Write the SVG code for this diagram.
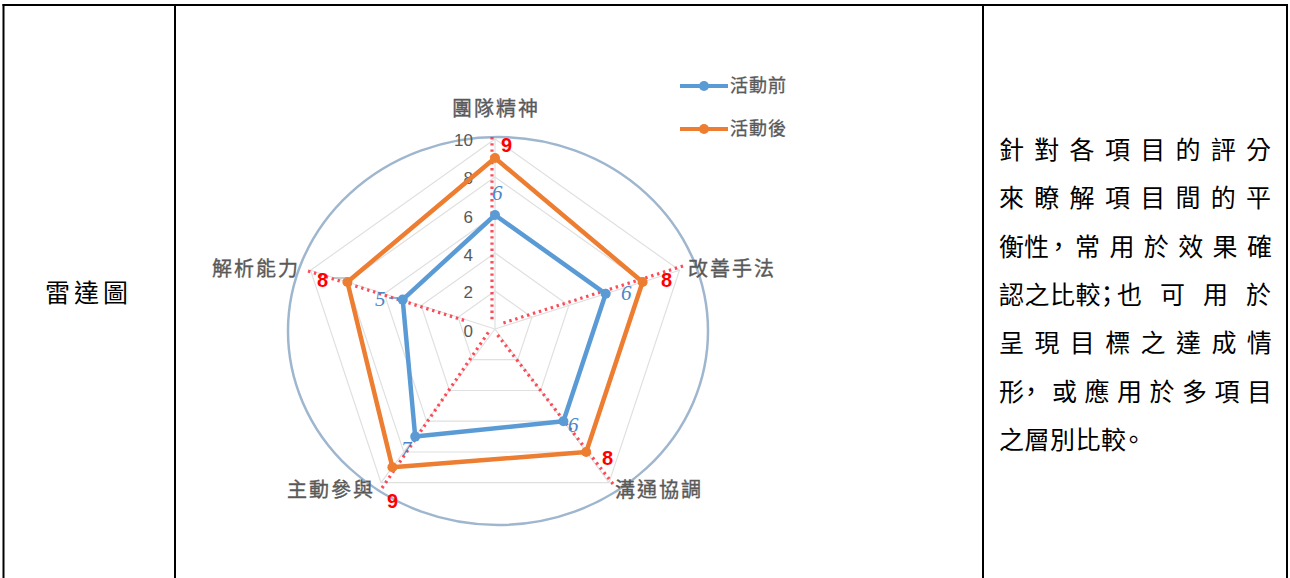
<svg xmlns="http://www.w3.org/2000/svg" width="1290" height="578" viewBox="0 0 1290 578">
<style>
.tb{stroke:#000;stroke-width:2;fill:none}
.cell{font-family:"Noto Sans CJK TC","Noto Sans CJK SC",sans-serif;font-size:25px;fill:#000}
.grid{fill:none;stroke:#e0e0e0;stroke-width:1.2}
.spoke{stroke:#e0e0e0;stroke-width:1.2}
.red{stroke:#ff2a3a;stroke-width:3.2;stroke-dasharray:2.4 3.8;fill:none;opacity:.85}
.cat{font-family:"Noto Sans CJK TC","Noto Sans CJK SC",sans-serif;font-size:20px;fill:#595959;stroke:#595959;stroke-width:0.35;letter-spacing:2px}
.tick{font-family:"Liberation Sans",Arial,sans-serif;font-size:17px;fill:#595959;text-anchor:end}
.rl{font-family:"Liberation Sans",Arial,sans-serif;font-size:20px;font-weight:bold;fill:#ff0000}
.bl{font-family:"Liberation Serif","Liberation Sans",serif;font-size:21px;font-style:italic;fill:#4a86c8}
.leg{font-family:"Noto Sans CJK TC","Noto Sans CJK SC",sans-serif;font-size:18px;fill:#595959;stroke:#595959;stroke-width:0.3;letter-spacing:1px}
</style>
<rect width="1290" height="578" fill="#fff"/>
<g id="table">
<line class="tb" x1="2.5" y1="5" x2="1288" y2="5"/>
<line class="tb" x1="3.5" y1="4" x2="3.5" y2="578"/>
<line class="tb" x1="175" y1="4" x2="175" y2="578"/>
<line class="tb" x1="983" y1="4" x2="983" y2="578"/>
<line class="tb" x1="1287" y1="4" x2="1287" y2="578"/>
</g>
<g id="cell-title">
<text class="cell" x="45 74 103" y="302">雷達圖</text>
</g>
<g id="cell-desc" class="cell">
<text x="999 1034.3 1069.6 1104.9 1140.2 1175.5 1210.8 1246.1" y="159">針對各項目的評分</text>
<text x="999 1034.3 1069.6 1104.9 1140.2 1175.5 1210.8 1246.1" y="207.3">來瞭解項目間的平</text>
<text x="999 1024 1046 1075 1109.4 1143.8 1178.2 1212.6 1247" y="255.6">衡性，常用於效果確</text>
<text x="999 1024.5 1050 1075.5 1094.5 1117 1160 1203 1246" y="303.9">認之比較；也可用於</text>
<text x="999 1034.4 1069.8 1105.2 1140.6 1176 1211.4 1246.8" y="352.2">呈現目標之達成情</text>
<text x="999 1018.5 1052 1084.5 1117 1149.5 1182 1214.5 1247" y="400.5">形，或應用於多項目</text>
<text x="999 1024.5 1050 1075.5 1101 1121" y="448.8">之層別比較。</text>
</g>
<g id="radar-chart">
<g id="frame">
<ellipse cx="498" cy="331" rx="210" ry="194" fill="none" stroke="#9fb6cf" stroke-width="2.5"/>
</g>
<g id="grid">
<polygon class="grid" points="495,139 679.5,270.3 609,482.7 381,482.7 310.5,270.3"/>
<polygon class="grid" points="495,177 642.6,282 586.2,452 403.8,452 347.4,282"/>
<polygon class="grid" points="495,215 605.7,293.8 563.4,421.2 426.6,421.2 384.3,293.8"/>
<polygon class="grid" points="495,253 568.8,305.5 540.6,390.5 449.4,390.5 421.2,305.5"/>
<polygon class="grid" points="495,291 531.9,317.3 517.8,359.7 472.2,359.7 458.1,317.3"/>
<line class="spoke" x1="495" y1="329" x2="495" y2="139"/>
<line class="spoke" x1="495" y1="329" x2="679.5" y2="270.3"/>
<line class="spoke" x1="495" y1="329" x2="609" y2="482.7"/>
<line class="spoke" x1="495" y1="329" x2="381" y2="482.7"/>
<line class="spoke" x1="495" y1="329" x2="310.5" y2="270.3"/>
</g>
<g id="ticks">
<text class="tick" x="473" y="146">10</text>
<text class="tick" x="473" y="184">8</text>
<text class="tick" x="473" y="223">6</text>
<text class="tick" x="473" y="261">4</text>
<text class="tick" x="473" y="298">2</text>
<text class="tick" x="473" y="337">0</text>
</g>
<g id="red-guides">
<line class="red" x1="492" y1="137" x2="492" y2="322"/>
<line class="red" x1="683" y1="266" x2="500" y2="324"/>
<line class="red" x1="308" y1="271" x2="466" y2="321"/>
<line class="red" x1="382" y1="488" x2="490" y2="330"/>
<line class="red" x1="613" y1="484" x2="496" y2="333"/>
</g>
<g id="series-before">
<polygon points="495,215 605.7,293.8 563.4,421.2 415.2,436.6 402.7,299.6" fill="none" stroke="#5b9bd5" stroke-width="4.5" stroke-linejoin="round"/>
<g fill="#5b9bd5">
<circle cx="495" cy="215" r="5"/><circle cx="605.7" cy="293.8" r="5"/><circle cx="563.4" cy="421.2" r="5"/><circle cx="415.2" cy="436.6" r="5"/><circle cx="402.7" cy="299.6" r="5"/>
</g>
</g>
<g id="series-after">
<polygon points="495,158 642.6,282 586.2,452 392.4,467.3 347.4,282" fill="none" stroke="#ed7d31" stroke-width="4.5" stroke-linejoin="round"/>
<g fill="#ed7d31">
<circle cx="495" cy="158" r="5"/><circle cx="642.6" cy="282" r="5"/><circle cx="586.2" cy="452" r="5"/><circle cx="392.4" cy="467.3" r="5"/><circle cx="347.4" cy="282" r="5"/>
</g>
</g>
<g id="labels-before">
<text class="bl" x="492" y="200">6</text>
<text class="bl" x="621" y="300">6</text>
<text class="bl" x="375" y="306">5</text>
<line x1="389" y1="298" x2="398" y2="298" stroke="#4a86c8" stroke-width="1.2"/>
<text class="bl" x="568" y="432">6</text>
<text class="bl" x="401" y="456">7</text>
</g>
<g id="labels-after">
<text class="rl" x="501" y="152">9</text>
<text class="rl" x="661" y="287">8</text>
<text class="rl" x="317" y="287">8</text>
<line x1="334" y1="278" x2="346" y2="278" stroke="#a6a6a6" stroke-width="1.2"/>
<text class="rl" x="602" y="465">8</text>
<text class="rl" x="387" y="508">9</text>
</g>
<g id="categories">
<text class="cat" x="452" y="116">團隊精神</text>
<text class="cat" x="688" y="276">改善手法</text>
<text class="cat" x="212" y="276">解析能力</text>
<text class="cat" x="615" y="497">溝通協調</text>
<text class="cat" x="287" y="497">主動參與</text>
</g>
<g id="legend">
<line x1="680" y1="86" x2="728" y2="86" stroke="#5b9bd5" stroke-width="4"/>
<circle cx="704" cy="86" r="5" fill="#5b9bd5"/>
<text class="leg" x="730" y="92">活動前</text>
<line x1="680" y1="129" x2="728" y2="129" stroke="#ed7d31" stroke-width="4"/>
<circle cx="704" cy="129" r="5" fill="#ed7d31"/>
<text class="leg" x="730" y="135">活動後</text>
</g>
</g>
</svg>
